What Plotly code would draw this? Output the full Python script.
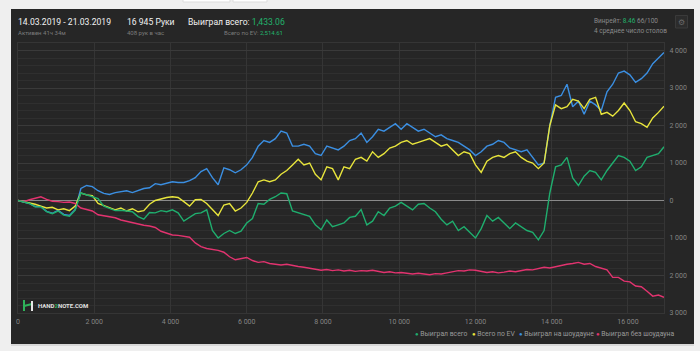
import plotly.graph_objects as go

# ---------------- data ----------------
hands = list(range(0, 16801, 150)) + [16945]

won_total = [0, -50, -80, -170, -170, -300, -350, -280, -390, -420, -260,
             200, 150, 100, 50, -150, -220, -270, -260, -290, -300,
             -430, -500, -320, -330, -270, -300, -250, -330, -550, -450,
             -350, -330, -250, -800, -1000, -880, -800, -880, -820, -600,
             -480, -80, -100, 30, 100, 200, 180, -280, -320, -380,
             -420, -650, -780, -520, -700, -650, -600, -450, -420, -240,
             -650, -550, -300, -400, -200, -150, -50, -150, -250, -100,
             -80, -200, -300, -500, -650, -550, -800, -700, -850, -1000,
             -750, -400, -550, -450, -600, -750, -600, -700, -800, -850,
             -1050, -800, 200, 900, 950, 1150, 600, 400, 650, 800,
             750, 550, 800, 1000, 1200, 1150, 1050, 800, 900, 1150, 1200, 1250,
             1433.06]

ev_total = [0, -30, -60, -100, -150, -200, -180, -250, -220, -270, -150,
            200, 150, 130, -80, -130, -200, -250, -200, -280, -220,
            -300, -270, -100, 0, 50, 80, 100, 80, -30, -150,
            20, 30, -80, -250, -400, -120, -80, -280, -200, -50,
            200, 500, 550, 500, 550, 700, 800, 950, 1100, 950,
            1000, 700, 550, 900, 850, 550, 900, 850, 1100, 1150,
            1050, 1300, 1150, 1250, 1400, 1450, 1550, 1600, 1500, 1550,
            1600, 1650, 1550, 1450, 1500, 1350, 1200, 1300, 1250, 950,
            750, 1050, 1150, 1200, 1150, 1250, 1300, 1150, 1050, 1000,
            850, 1000, 2000, 2550, 2450, 2500, 2700, 2650, 2450, 2700,
            2750, 2300, 2350, 2250, 2400, 2600, 2400, 2100, 2050, 1950, 2200, 2350,
            2514.61]

showdown = [0, -50, -80, -160, -160, -290, -340, -260, -370, -400, -240,
            320, 400, 370, 260, 190, 160, 210, 240, 260, 210,
            260, 320, 340, 450, 420, 450, 500, 480, 480, 530,
            610, 770, 850, 610, 420, 870, 820, 740, 820, 950,
            1150, 1450, 1600, 1550, 1650, 1850, 1800, 1450, 1450, 1500,
            1450, 1250, 1200, 1450, 1400, 1350, 1450, 1600, 1650, 1800,
            1550, 1700, 1900, 1850, 1950, 2050, 1900, 2050, 1950, 1850,
            1900, 1800, 1700, 1750, 1650, 1600, 1550, 1450, 1350, 1200,
            1300, 1450, 1500, 1600, 1550, 1400, 1350, 1300, 1350, 1150,
            950, 1000, 2000, 2750, 2800, 3100, 2500, 2650, 2300, 2650,
            2550, 2400, 2900, 3100, 3400, 3450, 3350, 3150, 3250, 3400, 3650, 3800,
            3950]

non_showdown = [0, -30, 20, 60, 100, 30, -20, -30, -50, -40, -80,
                -200, -250, -280, -380, -400, -420, -460, -520, -560, -600,
                -640, -660, -680, -720, -820, -880, -920, -930, -950, -980,
                -1130, -1230, -1280, -1300, -1330, -1380, -1500, -1580, -1560, -1520,
                -1600, -1650, -1630, -1680, -1700, -1720, -1700, -1740, -1760, -1780,
                -1800, -1830, -1860, -1840, -1870, -1850, -1880, -1860, -1890, -1870,
                -1880, -1860, -1900, -1920, -1900, -1930, -1920, -1950, -1960, -1940,
                -1960, -1980, -1950, -1960, -1930, -1900, -1870, -1880, -1850, -1860,
                -1900, -1920, -1900, -1930, -1910, -1880, -1900, -1870, -1840, -1850,
                -1820, -1780, -1800, -1760, -1720, -1700, -1680, -1650, -1700, -1680,
                -1760, -1800, -1850, -2050, -2050, -2150, -2170, -2280, -2300, -2420, -2550, -2520,
                -2580]

series_names = ["Выиграл всего", "Всего по EV", "Выиграл на шоудауне", "Выиграл без шоудауна"]
series_colors = ["#1fae6e", "#e8e53c", "#3b8fe2", "#e2336f"]

x_tick_vals = [0, 2000, 4000, 6000, 8000, 10000, 12000, 14000, 16000]
x_tick_text = ["0", "2 000", "4 000", "6 000", "8 000", "10 000", "12 000", "14 000", "16 000"]
y_tick_vals = [-3000, -2000, -1000, 0, 1000, 2000, 3000, 4000]
y_tick_text = ["3 000", "2 000", "1 000", "0", "1 000", "2 000", "3 000", "4 000"]

# ---------------- layout helpers ----------------
W, H = 700, 351
ML, MR, MT, MB = 18, 36, 43, 38
PW, PH = W - ML - MR, H - MT - MB


def px(x):
    return (x - ML) / PW


def py(y):
    return (H - MB - y) / PH


FONT = "Roboto, 'Open Sans', sans-serif"
PANEL = "#262626"
GREEN_TXT = "#22b36c"

fig = go.Figure()

order = [2, 1, 3, 0]
data_series = [won_total, ev_total, showdown, non_showdown]
for i in order:
    fig.add_trace(go.Scatter(
        x=hands, y=data_series[i], mode="lines", name=series_names[i],
        line=dict(color=series_colors[i], width=1.4), showlegend=False,
        hoverinfo="skip"))

shapes = []
# page panel
shapes.append(dict(type="rect", xref="paper", yref="paper", layer="below",
                   x0=px(11), x1=px(694), y0=py(344), y1=py(9),
                   fillcolor=PANEL, line=dict(width=0)))
shapes.append(dict(type="rect", xref="paper", yref="paper", layer="below",
                   x0=px(11), x1=px(694), y0=py(346), y1=py(344),
                   fillcolor="#d8d8d8", line=dict(width=0)))
# small buttons peeking at top
for a, b in [(183, 230), (233, 267)]:
    shapes.append(dict(type="rect", xref="paper", yref="paper",
                       x0=px(a), x1=px(b), y0=py(2), y1=py(-2),
                       fillcolor="#ffffff", line=dict(color="#dddddd", width=1)))
# gear box
shapes.append(dict(type="rect", xref="paper", yref="paper",
                   x0=px(675.5), x1=px(687.5), y0=py(28), y1=py(15.5),
                   fillcolor="#2c2c2c", line=dict(color="#3a3a3a", width=1)))
# logo icon
shapes.append(dict(type="line", xref="paper", yref="paper",
                   x0=px(24), x1=px(24), y0=py(300), y1=py(311),
                   line=dict(color="#2fb35a", width=2)))
shapes.append(dict(type="line", xref="paper", yref="paper",
                   x0=px(24), x1=px(32), y0=py(306), y1=py(304),
                   line=dict(color="#2fb35a", width=2)))
shapes.append(dict(type="line", xref="paper", yref="paper",
                   x0=px(32), x1=px(32), y0=py(301), y1=py(311),
                   line=dict(color="#e6e6e6", width=2)))

ann = []


def text(x, y, s, size, color, xanchor="left", font=FONT):
    ann.append(dict(x=px(x), y=py(y), xref="paper", yref="paper", text=s,
                    showarrow=False, xanchor=xanchor, yanchor="middle",
                    font=dict(size=size, color=color, family=font)))


text(16, 22, "14.03.2019 - 21.03.2019", 8.6, "#f2f2f2")
text(16, 32.5, "Активен 41ч 34м", 6, "#7c7c7c")
text(125, 22, "16 945 Руки", 8.6, "#f2f2f2")
text(125, 32.5, "408 рук в час", 6, "#7c7c7c")
text(186, 22, "Выиграл всего: <span style='color:%s'>1,433.06</span>" % GREEN_TXT, 8.6, "#f2f2f2")
text(285, 32.5, "Всего по EV: <span style='color:%s'>2,514.61</span>" % GREEN_TXT, 6, "#7c7c7c", xanchor="right")
text(592, 21.5, "Винрейт: <span style='color:%s'>8.46</span> 66/100" % GREEN_TXT, 6.5, "#8a8a8a")
text(592, 31, "4 среднее число столов", 6.5, "#8a8a8a")
text(681.5, 22, "⚙", 8, "#6a6a6a", xanchor="center", font="DejaVu Sans")
text(36, 305.5, "<b>HAND<span style='color:#2fb35a'>2</span>NOTE.COM</b>", 6, "#e0e0e0")

# legend as text items
legend_pos = [(413, 0), (470, 1), (516.5, 2), (594, 3)]
for xp_, i in legend_pos:
    text(xp_, 334, "<span style='color:%s;font-size:6px'>●</span> %s" % (series_colors[i], series_names[i]),
         6.8, "#9a9a9a")

fig.update_layout(
    width=W, height=H,
    margin=dict(l=ML, r=MR, t=MT, b=MB, pad=0),
    paper_bgcolor="#efefef", plot_bgcolor=PANEL,
    shapes=shapes, annotations=ann,
    showlegend=False,
    font=dict(family=FONT, color="#8a8a8a", size=7),
    xaxis=dict(range=[0, 16945], tickmode="array", tickvals=x_tick_vals, ticktext=x_tick_text,
               showgrid=True, gridcolor="#353535", gridwidth=1, zeroline=False,
               showline=True, linecolor="#353535", mirror=True, ticks="",
               tickfont=dict(size=7, color="#858585"), ticklabelstandoff=2),
    yaxis=dict(range=[-3000, 4200], side="right", tickmode="array", tickvals=y_tick_vals,
               ticktext=y_tick_text, showgrid=True, gridcolor="#3a3a3a", gridwidth=1,
               zeroline=True, zerolinecolor="#8a8a8a", zerolinewidth=1.2,
               showline=True, linecolor="#353535", mirror=True, ticks="",
               minor=dict(dtick=200, tick0=0, showgrid=True, gridcolor="#2f2f2f", gridwidth=1),
               tickfont=dict(size=7, color="#858585"), ticklabelstandoff=3),
)

fig.write_html("out.html")
